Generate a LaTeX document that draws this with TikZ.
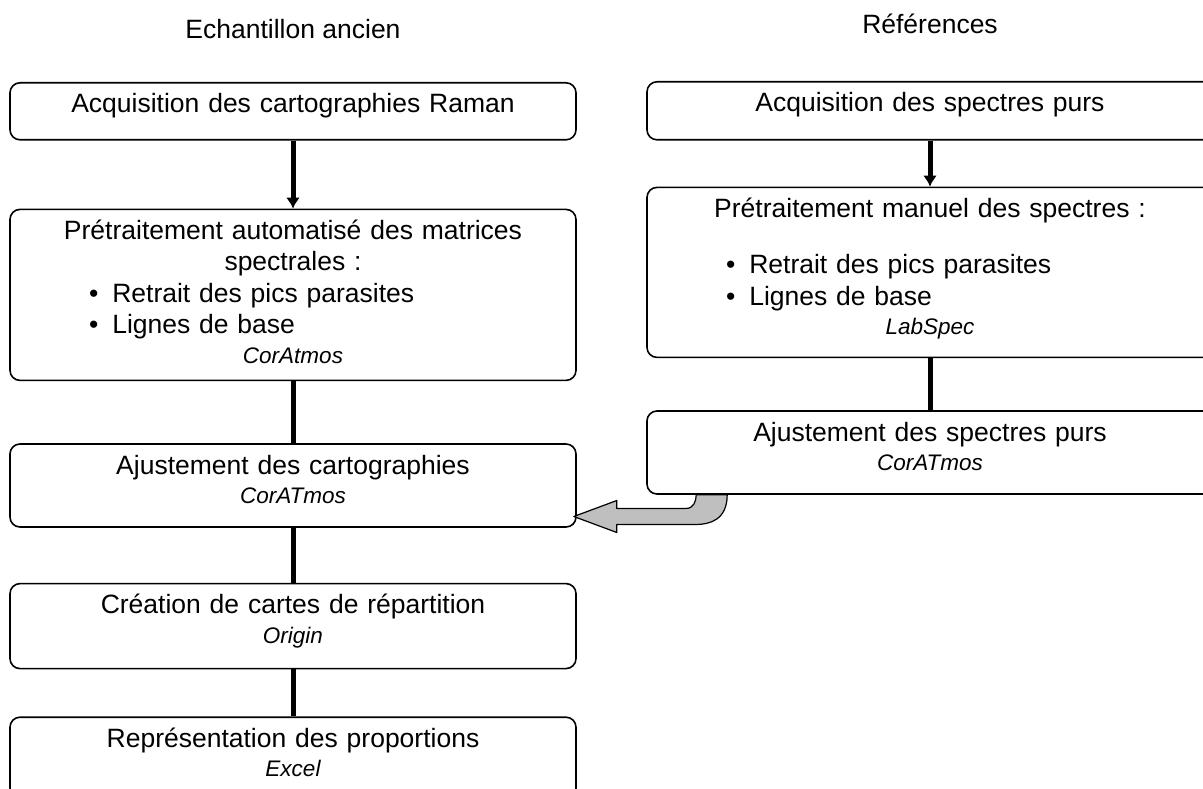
\documentclass[tikz,border=0pt]{standalone}
\usepackage{fontspec}
\setmainfont{Liberation Sans}
\usetikzlibrary{arrows.meta,positioning,calc}

\newcommand{\logiciel}[1]{{\fontsize{22.5}{27}\selectfont\itshape #1}}
\newcommand{\puce}[1]{\makebox[\linewidth][l]{\hspace*{79pt}\textbullet\hspace{14pt}#1}}

\begin{document}
\begin{tikzpicture}[
  x=1pt, y=-1pt,
  font=\fontsize{26.5}{31.5}\selectfont,
  boite/.style={draw, line width=1.6pt, rounded corners=10pt, fill=white, align=center,
    text width=566pt, inner xsep=0pt, inner ysep=0pt, text height=30pt, text depth=#1},
  lien/.style={line width=5pt},
  fleche/.style={lien, -{Latex[length=11pt,width=14pt]}},
  grise/.style={draw, fill=gray!50, line width=1.2pt, line join=round},
  titre/.style={inner sep=0pt}
]
\useasboundingbox (0,0) rectangle (1203,789);
\clip (0,0) rectangle (1203,789);

% echantillon ancien
\node[boite=27pt, anchor=north] (acqA) at (293,82) {Acquisition des cartographies Raman};
\node[boite=141pt, below=68pt of acqA] (pretA) {Prétraitement automatisé des matrices\\spectrales :\\\puce{Retrait des pics parasites}\\\puce{Lignes de base}\\[-2pt]\logiciel{CorAtmos}};
\node[boite=53pt, below=62pt of pretA] (ajustA) {Ajustement des cartographies\\[-2pt]\logiciel{CorATmos}};
\node[boite=55pt, below=55pt of ajustA] (cartesA) {Création de cartes de répartition\\[-2pt]\logiciel{Origin}};
\node[boite=51pt, below=47pt of cartesA] (propA) {Représentation des proportions\\[-2pt]\logiciel{Excel}};
\node[titre, above=43pt of acqA] (echant) {Echantillon ancien};

% references
\node[boite=28pt, anchor=north] (acqB) at (930,81) {Acquisition des spectres purs};
\node[boite=140pt, below=46pt of acqB] (pretB) {Prétraitement manuel des spectres :\\[25pt]\puce{Retrait des pics parasites}\\\puce{Lignes de base}\\[-2pt]\logiciel{LabSpec}};
\node[boite=53pt, below=52pt of pretB] (ajustB) {Ajustement des spectres purs\\[-2pt]\logiciel{CorATmos}};
\node[titre, above=47pt of acqB] (refs) {Références};

\draw[fleche] (acqA) -- (pretA);
\draw[lien] (pretA) -- (ajustA);
\draw[lien] (ajustA) -- (cartesA);
\draw[lien] (cartesA) -- (propA);
\draw[fleche] (acqB) -- (pretB);
\draw[lien] (pretB) -- (ajustB);

% fleche grise
\coordinate (g1) at ([xshift=50pt]ajustB.south west);
\coordinate (g2) at ([xshift=81pt]ajustB.south west);
\coordinate (pointe) at ([xshift=-3pt,yshift=-31pt]ajustA.east);
\draw[grise] (g2) .. controls +(0,25) and +(14,0) .. ($(pointe)+(122,8)$)
  -- ($(pointe)+(43,8)$) -- ($(pointe)+(43,16)$) -- (pointe)
  -- ($(pointe)+(43,-16)$) -- ($(pointe)+(43,-8)$) -- ($(pointe)+(112,-8)$)
  .. controls +(8,0) and +(0,6) .. (g1) -- cycle;
\end{tikzpicture}
\end{document}
